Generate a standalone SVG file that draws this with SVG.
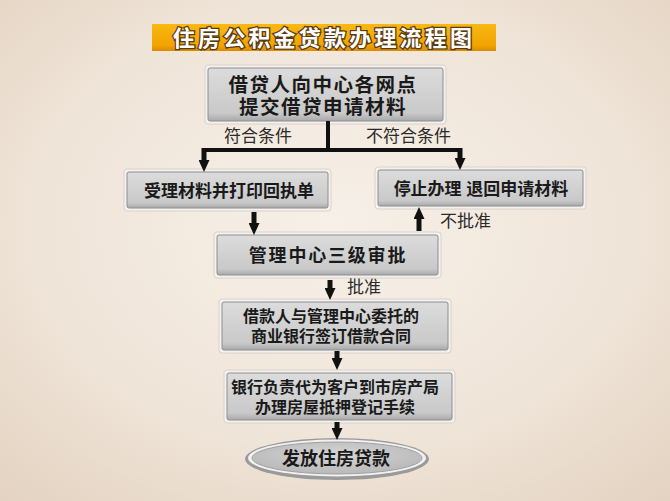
<svg xmlns="http://www.w3.org/2000/svg" width="670" height="501" viewBox="0 0 670 501">
<defs>
<radialGradient id="bg" cx="0.5" cy="0.45" r="0.75">
<stop offset="0" stop-color="#f7f0e8"/>
<stop offset="0.6" stop-color="#efe4d8"/>
<stop offset="1" stop-color="#e3d2c0"/>
</radialGradient>
<linearGradient id="title" x1="0" y1="0" x2="0" y2="1">
<stop offset="0" stop-color="#f9b812"/>
<stop offset="0.8" stop-color="#f2a300"/>
<stop offset="1" stop-color="#d98a00"/>
</linearGradient>
<linearGradient id="box" x1="0" y1="0" x2="0" y2="1">
<stop offset="0" stop-color="#dcdcdc"/>
<stop offset="0.85" stop-color="#c9c9c9"/>
<stop offset="1" stop-color="#a9a9a9"/>
</linearGradient>
<radialGradient id="ell" cx="0.5" cy="0.4" r="0.6">
<stop offset="0" stop-color="#d6d6d6"/>
<stop offset="1" stop-color="#b8b8b8"/>
</radialGradient>
<marker id="ah" markerUnits="userSpaceOnUse" markerWidth="12" markerHeight="11" refX="0" refY="5.5" orient="auto" viewBox="0 0 12 11">
<path d="M0,0 L12,5.5 L0,11 Z" fill="#111"/>
</marker>
<style>
.box{fill:url(#box);stroke:#8e8e8e;stroke-width:1}
.halo{fill:#f4f1ee;stroke:#d8d2cc;stroke-width:1}
.t{font-family:"Liberation Sans","Noto Sans CJK SC",sans-serif;font-weight:bold;fill:#1a1a1a;text-anchor:middle}
.lbl{font-family:"Liberation Sans","Noto Sans CJK SC",sans-serif;font-size:17px;fill:#2a2a2a}
.ln{stroke:#111;stroke-width:4;fill:none}
.ar{stroke:#111;stroke-width:5;fill:none;marker-end:url(#ah)}
</style>
</defs>
<rect x="0" y="0" width="670" height="501" fill="url(#bg)"/>

<g id="title-bar">
<rect x="152" y="24" width="344" height="27" fill="url(#title)"/>
<text x="324" y="46" font-family="'Liberation Sans','Noto Sans CJK SC',sans-serif" font-weight="bold" font-size="22" letter-spacing="3.2" text-anchor="middle" fill="#fff" stroke="#5a3a10" stroke-width="2.6" paint-order="stroke">住房公积金贷款办理流程图</text>
</g>

<g id="n1">
<rect class="halo" x="205" y="65" width="241" height="59" rx="3"/>
<rect class="box" x="208" y="68" width="235" height="53" rx="2"/>
<text class="t" font-size="19.5" letter-spacing="1.5"><tspan x="323" y="92">借贷人向中心各网点</tspan><tspan x="323" y="114">提交借贷申请材料</tspan></text>
</g>

<g id="n2">
<rect class="halo" x="124" y="169" width="207" height="42" rx="3"/>
<rect class="box" x="127" y="172" width="201" height="36" rx="2"/>
<text class="t" x="229" y="197" font-size="17">受理材料并打印回执单</text>
</g>

<g id="n3">
<rect class="halo" x="375" y="167" width="211" height="42" rx="3"/>
<rect class="box" x="378" y="170" width="205" height="36" rx="2"/>
<text class="t" x="481" y="195" font-size="17" xml:space="preserve">停止办理 退回申请材料</text>
</g>

<g id="n4">
<rect class="halo" x="214" y="232" width="227" height="46" rx="3"/>
<rect class="box" x="217" y="235" width="221" height="40" rx="2"/>
<text class="t" x="328" y="262" font-size="18" letter-spacing="1.8">管理中心三级审批</text>
</g>

<g id="n5">
<rect class="halo" x="219" y="299" width="232" height="54" rx="3"/>
<rect class="box" x="222" y="302" width="226" height="48" rx="2"/>
<text class="t" font-size="16"><tspan x="331" y="322">借款人与管理中心委托的</tspan><tspan x="331" y="342">商业银行签订借款合同</tspan></text>
</g>

<g id="n6">
<rect class="halo" x="224" y="370" width="231" height="53" rx="3"/>
<rect class="box" x="227" y="373" width="225" height="47" rx="2"/>
<text class="t" font-size="16"><tspan x="335" y="393">银行负责代为客户到市房产局</tspan><tspan x="335" y="413">办理房屋抵押登记手续</tspan></text>
</g>

<g id="n7">
<ellipse cx="337" cy="459" rx="92" ry="21" fill="#9a9a9a"/>
<ellipse cx="337" cy="458" rx="89" ry="18.5" fill="#f2f2f2"/>
<ellipse cx="337" cy="458" rx="85" ry="16" fill="url(#ell)" stroke="#a0a0a0" stroke-width="1"/>
<text class="t" x="336" y="465" font-size="18">发放住房贷款</text>
</g>

<g id="connectors">
<path class="ln" d="M328,121 V150 M202,150 H462"/>
<path class="ar" d="M204,148 V160"/>
<path class="ar" d="M460,148 V158"/>
<path class="ar" d="M254,212 V223"/>
<path class="ar" d="M419,231 V219"/>
<path class="ar" d="M330,280 V288"/>
<path class="ar" d="M337,351 V358"/>
<path class="ar" d="M337,422 V428"/>
<text class="lbl" x="224" y="142">符合条件</text>
<text class="lbl" x="366" y="142">不符合条件</text>
<text class="lbl" x="440" y="227">不批准</text>
<text class="lbl" x="347" y="293">批准</text>
</g>
</svg>
